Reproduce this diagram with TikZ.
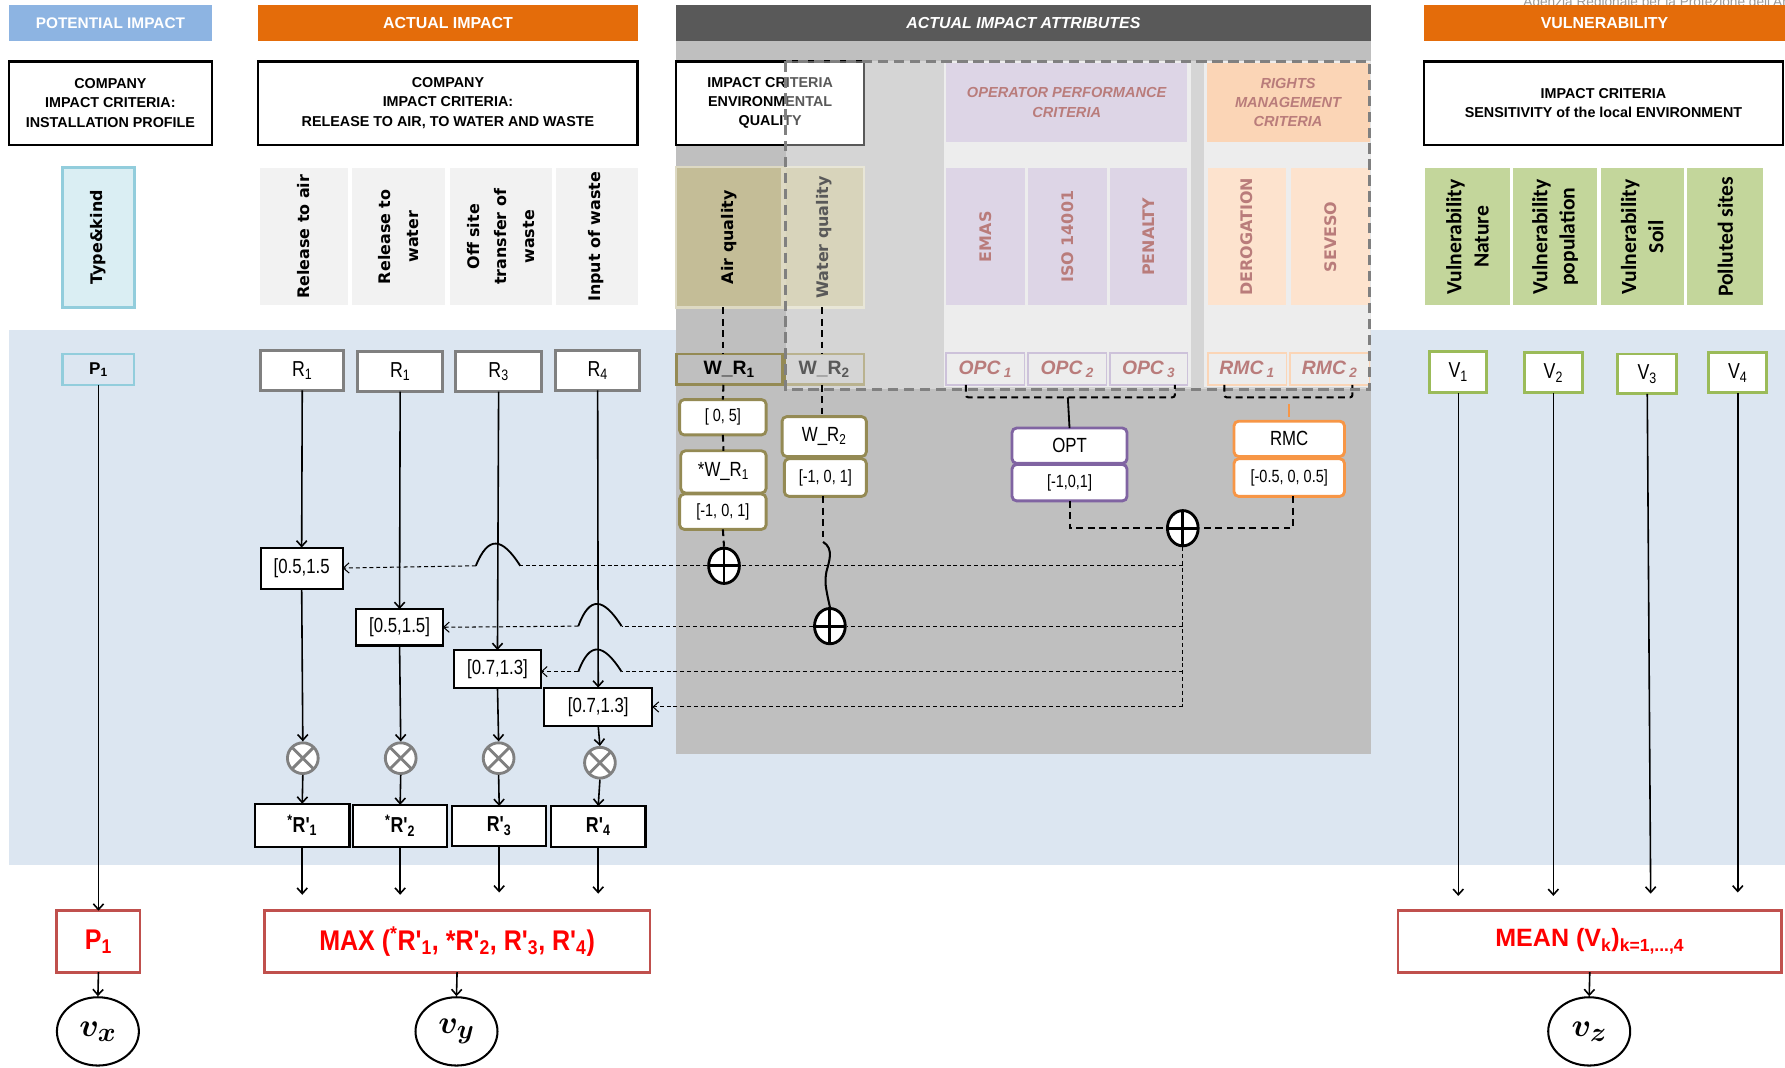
\documentclass[tikz,border=0pt]{standalone}
\usepackage{graphicx}
\usepackage{amsmath}
\usepackage{bm}
\usepackage{fontspec}
\setmainfont{Liberation Sans}
\newfontfamily\nar[FakeStretch=0.82]{Liberation Sans}
\newfontfamily\narb[FakeStretch=0.88]{Liberation Sans}
\newfontfamily\vfont{DejaVu Sans}
\newfontfamily\cfont{Carlito}
\usetikzlibrary{arrows.meta,shapes.geometric}
\newcommand\fs[2]{\fontsize{#1}{#2}\selectfont}
\newcommand\sbs[1]{\textsubscript{#1}}
\newcommand\bigv[1]{\fs{24.88}{28}\scalebox{1.15}{$\bm{v_{#1}}$}}
\newcommand\bx[7]{\node[#6,minimum width={((#4)-(#2))*1pt},minimum height={((#5)-(#3))*1pt}] (#1) at ({((#2)+(#4))/2},{((#3)+(#5))/2}) {#7};}
\newcommand\rt[3]{\node[rotate=90,align=center,inner sep=0pt,#3] (#1t) at (#1.center) {#2};}
\definecolor{potblue}{HTML}{8DB4E2}
\definecolor{orng}{HTML}{E46C0A}
\definecolor{dgray}{HTML}{595959}
\definecolor{panel}{HTML}{BFBFBF}
\definecolor{band}{HTML}{DCE6F1}
\definecolor{cyanf}{HTML}{DAEEF3}
\definecolor{cyanl}{HTML}{92CDDC}
\definecolor{lightg}{HTML}{F2F2F2}
\definecolor{olivef}{HTML}{C4BD97}
\definecolor{olivel}{HTML}{DDD9C3}
\definecolor{oliveb}{HTML}{948A54}
\definecolor{lav}{HTML}{CCC0DA}
\definecolor{lavl}{HTML}{B3A2C7}
\definecolor{purp}{HTML}{8064A2}
\definecolor{peach}{HTML}{FABF8F}
\definecolor{peachl}{HTML}{FCD5B4}
\definecolor{peachline}{HTML}{FAC090}
\definecolor{orB}{HTML}{F79646}
\definecolor{dred}{HTML}{953735}
\definecolor{vgreen}{HTML}{C3D69B}
\definecolor{greenl}{HTML}{9BBB59}
\definecolor{redl}{HTML}{C0504D}
\definecolor{redt}{HTML}{FF0000}
\definecolor{xgray}{HTML}{808080}
\definecolor{colbg}{HTML}{E4E4E4}
\tikzset{
  base/.style={inner sep=0pt, outer sep=0pt, align=center},
  hdr/.style={base, text=white, font=\bfseries\fs{14}{16}},
  cbox/.style={base, draw=black, line width=1.8pt, fill=white, font=\bfseries\fs{12.6}{17}},
  colg/.style={base, fill=lightg},
  rtv/.style={font=\vfont\bfseries\fs{14}{24}},
  rtc/.style={font=\cfont\bfseries\fs{19}{24}},
  opcs/.style={base, fill=colbg, draw=lavl, line width=1.5pt, text=dred, font=\bfseries\itshape\fs{17}{20}},
  rmcs/.style={base, fill=colbg, draw=peachline, line width=1.5pt, text=dred, font=\bfseries\itshape\fs{17}{20}},
  wrbox/.style={base, draw=oliveb, line width=2.5pt, font=\bfseries\fs{17}{20}},
  rbox/.style={base, fill=white, draw=xgray, line width=2.5pt, font=\nar\fs{19}{22}},
  vbox/.style={base, fill=white, draw=greenl, line width=2.5pt, font=\nar\fs{19}{22}},
  wch/.style={base, fill=white, draw=oliveb, line width=2.5pt, rounded corners=4pt, font=\nar\fs{15.5}{18}},
  kbox/.style={base, fill=white, draw=black, line width=1.8pt, font=\nar\fs{18}{20}},
  rpbox/.style={kbox, font=\nar\bfseries\fs{19}{22}},
  redbox/.style={base, fill=white, draw=redl, line width=2.5pt, text=redt, font=\narb\bfseries\fs{25}{28}},
  ell/.style={ellipse, draw=black, line width=1.8pt, fill=white, minimum width=72pt, minimum height=60pt, inner sep=0pt},
  oplus/.style={ellipse, draw=black, line width=2.5pt, fill=white, minimum width=27pt, minimum height=31pt, inner sep=0pt,
    path picture={\draw[line width=2.5pt] (path picture bounding box.north) -- (path picture bounding box.south)
      (path picture bounding box.west) -- (path picture bounding box.east);}},
  otimes/.style={circle, draw=xgray, line width=2.5pt, fill=white, minimum size=27pt, inner sep=0pt,
    path picture={\draw[line width=2.5pt, xgray] (path picture bounding box.north west) -- (path picture bounding box.south east)
      (path picture bounding box.north east) -- (path picture bounding box.south west);}},
  arr/.style={line width=1.4pt, -{Straight Barb[length=5pt,width=9pt]}},
  kdash/.style={line width=1.8pt, dash pattern=on 6pt off 4pt},
  tdash/.style={line width=0.9pt, dash pattern=on 3.5pt off 2.5pt},
  tarr/.style={tdash, -{Straight Barb[length=5pt,width=9pt]}},
  hop/.style={line width=1.6pt}
}
\begin{document}
\begin{tikzpicture}[x=1pt,y=-1pt]
\useasboundingbox (0,0) rectangle (1568,938);
\fill[white] (0,0) rectangle (1568,938);
% faint clipped text at top right
\begin{scope}
\clip (0,0) rectangle (1568,938);
\node[anchor=base west, inner sep=0pt, text=black!40, font=\fs{12}{14}] (arpa) at (1338,6) {Agenzia Regionale per la Protezione dell'Ambiente};
\end{scope}
% backgrounds
\fill[band] (8,290) rectangle (1568,760);
\fill[panel] (594,36) rectangle (1204,662);
% header bars
\bx{hpot}{8}{4}{186}{36}{hdr,fill=potblue,font=\bfseries\fs{13.5}{16}}{POTENTIAL IMPACT}
\bx{hact}{227}{4}{560}{36}{hdr,fill=orng}{ACTUAL IMPACT}
\bx{hatt}{594}{4}{1204}{36}{hdr,fill=dgray,font=\bfseries\itshape\fs{14}{16}}{ACTUAL IMPACT ATTRIBUTES}
\bx{hvul}{1251}{4}{1568}{36}{hdr,fill=orng}{VULNERABILITY}
% criteria boxes
\bx{cpot}{8}{54}{186}{127}{cbox}{COMPANY\\IMPACT CRITERIA:\\INSTALLATION PROFILE}
\bx{cact}{227}{54}{560}{127}{cbox}{COMPANY\\IMPACT CRITERIA:\\RELEASE TO AIR, TO WATER AND WASTE}
\bx{cenv}{594}{54}{759}{127}{cbox}{IMPACT CRITERIA\\ENVIRONMENTAL\\QUALITY}
\bx{csen}{1251}{54}{1566}{127}{cbox}{IMPACT CRITERIA\\SENSITIVITY of the local ENVIRONMENT}
% potential column
\bx{tk}{55}{147}{118}{270}{base,fill=cyanf,draw=cyanl,line width=2.5pt}{}
\rt{tk}{Type\&kind}{rtv}
% release columns
\bx{c1}{228}{148}{306}{268}{colg}{}
\rt{c1}{Release to air}{rtv}
\bx{c2}{309}{148}{391}{268}{colg}{}
\rt{c2}{Release to\\water}{rtv}
\bx{c3}{395}{148}{485}{268}{colg}{}
\rt{c3}{Off site\\transfer of\\waste}{rtv}
\bx{c4}{488}{148}{560}{268}{colg}{}
\rt{c4}{Input of waste}{rtv}
% attribute columns
\fill[colbg] (829,54) rectangle (1046,340);
\fill[colbg] (1058,54) rectangle (1204,340);
\bx{hopc}{831}{55}{1043}{125}{base,fill=lav,text=dred,font=\bfseries\itshape\fs{12.8}{17}}{OPERATOR PERFORMANCE\\CRITERIA}
\bx{hrmc}{1060}{55}{1203}{125}{base,fill=peach,text=dred,font=\bfseries\itshape\fs{12.8}{17}}{RIGHTS\\MANAGEMENT\\CRITERIA}
\bx{emas}{831}{148}{900}{268}{base,fill=lav}{}
\rt{emas}{EMAS}{rtv,text=dred}
\bx{iso}{903}{148}{972}{268}{base,fill=lav}{}
\rt{iso}{ISO 14001}{rtv,text=dred}
\bx{pen}{975}{148}{1043}{268}{base,fill=lav}{}
\rt{pen}{PENALTY}{rtv,text=dred}
\bx{der}{1061}{148}{1130}{268}{base,fill=peachl}{}
\rt{der}{DEROGATION}{rtv,text=dred}
\bx{sev}{1134}{148}{1203}{268}{base,fill=peachl}{}
\rt{sev}{SEVESO}{rtv,text=dred}
\bx{opc1}{831}{310}{900}{338}{opcs}{OPC\,\sbs{1}}
\bx{opc2}{903}{310}{972}{338}{opcs}{OPC\,\sbs{2}}
\bx{opc3}{975}{310}{1043}{338}{opcs}{OPC\,\sbs{3}}
\bx{rmc1}{1061}{310}{1130}{338}{rmcs}{RMC\,\sbs{1}}
\bx{rmc2}{1133}{310}{1203}{338}{rmcs}{RMC\,\sbs{2}}
\bx{airq}{594}{147}{687}{270}{base,fill=olivef,draw=olivel,line width=2pt}{}
\rt{airq}{Air quality}{rtv}
\bx{watq}{689}{147}{759}{270}{base,fill=olivef,draw=olivel,line width=2pt}{}
\rt{watq}{Water quality}{rtv}
\bx{wr1}{594}{311}{687}{338}{wrbox}{W\_R\sbs{1}}
\bx{wr2}{689}{311}{759}{338}{wrbox}{W\_R\sbs{2}}
% translucent dashed overlay
\fill[white, opacity=0.35] (690,54) rectangle (1203,342);
\draw[xgray, line width=3pt, dash pattern=on 9pt off 5pt] (690,54) rectangle (1203,342);
% vulnerability columns
\bx{vn}{1252}{148}{1326}{268}{base,fill=vgreen}{}
\rt{vn}{Vulnerability\\Nature}{rtc}
\bx{vp}{1329}{148}{1403}{268}{base,fill=vgreen}{}
\rt{vp}{Vulnerability\\population}{rtc}
\bx{vs}{1406}{148}{1479}{268}{base,fill=vgreen}{}
\rt{vs}{Vulnerability\\Soil}{rtc}
\bx{ps}{1482}{148}{1549}{268}{base,fill=vgreen}{}
\rt{ps}{Polluted sites}{rtc}
% row of inputs
\bx{p1}{55}{311}{118}{338}{base,draw=cyanl,line width=2pt,font=\bfseries\fs{15}{18}}{P\sbs{1}}
\bx{rb1}{229}{308}{302}{343}{rbox}{R\sbs{1}}
\bx{rb2}{314}{309}{389}{344}{rbox}{R\sbs{1}}
\bx{rb3}{400}{309}{476}{344}{rbox}{R\sbs{3}}
\bx{rb4}{488}{308}{562}{343}{rbox}{R\sbs{4}}
\bx{v1}{1256}{309}{1306}{345}{vbox}{V\sbs{1}}
\bx{v2}{1339}{310}{1390}{345}{vbox}{V\sbs{2}}
\bx{v3}{1421}{311}{1473}{346}{vbox}{V\sbs{3}}
\bx{v4}{1501}{310}{1552}{345}{vbox}{V\sbs{4}}
% weight chains
\bx{wa}{597}{351}{673}{382}{wch}{[ 0, 5]}
\bx{wb}{598}{396}{673}{433}{wch,font=\nar\fs{18}{20}}{*W\_R\sbs{1}}
\bx{wc}{597}{434}{673}{465}{wch}{[-1, 0, 1]}
\bx{wd}{687}{366}{761}{401}{wch,font=\nar\fs{18}{20}}{W\_R\sbs{2}}
\bx{we}{689}{403}{761}{436}{wch}{[-1, 0, 1]}
\bx{opt}{889}{376}{990}{407}{wch,draw=purp,font=\nar\fs{18}{20}}{OPT}
\bx{optb}{889}{408}{990}{440}{wch,draw=purp}{[-1,0,1]}
\bx{rmc}{1084}{370}{1181}{401}{wch,draw=orB,font=\nar\fs{18}{20}}{RMC}
\bx{rmcb}{1084}{403}{1181}{436}{wch,draw=orB}{[-0.5, 0, 0.5]}
% sum nodes
\node[oplus] (opa) at (636,497) {};
\node[oplus] (opb) at (729,550) {};
\node[oplus] (opc) at (1039,464) {};
% coefficient boxes
\bx{ba}{229}{481}{301}{517}{kbox}{[0.5,1.5}
\bx{bb}{313}{535}{389}{567}{kbox}{[0.5,1.5]}
\bx{bc}{399}{571}{475}{604}{kbox}{[0.7,1.3]}
\bx{bd}{478}{604}{573}{638}{kbox}{[0.7,1.3]}
% product nodes
\node[otimes] (x1) at (266,666) {};
\node[otimes] (x2) at (352,666) {};
\node[otimes] (x3) at (438,666) {};
\node[otimes] (x4) at (527,670) {};
% R' boxes
\bx{rp1}{224}{706}{307}{744}{rpbox}{\textsuperscript{*}R'\sbs{1}}
\bx{rp2}{310}{707}{393}{744}{rpbox}{\textsuperscript{*}R'\sbs{2}}
\bx{rp3}{397}{708}{480}{743}{rpbox}{R'\sbs{3}}
\bx{rp4}{484}{708}{567}{744}{rpbox}{R'\sbs{4}}
% result boxes
\bx{rP}{50}{800}{123}{854}{redbox}{P\sbs{1}}
\bx{rMax}{232}{800}{571}{854}{redbox}{MAX (\textsuperscript{*}R'\sbs{1}, *R'\sbs{2}, R'\sbs{3}, R'\sbs{4})}
\bx{rMean}{1228}{800}{1565}{854}{redbox,font=\bfseries\fs{22}{26}}{MEAN (V\sbs{k})\sbs{k=1,...,4}}
\node[ell] (vx) at (86,906) {\bigv{x}};
\node[ell] (vy) at (401,906) {\bigv{y}};
\node[ell] (vz) at (1396,906) {\bigv{z}};
% free ends
\coordinate (e1) at (265.5,786);
\coordinate (e2) at (351.5,786);
\coordinate (e3) at (438.5,784);
\coordinate (e4) at (525.5,785);
\coordinate (ev1) at (1281,787);
\coordinate (ev2) at (1364.5,787);
\coordinate (ev3) at (1450,785);
\coordinate (ev4) at (1526.5,784);
% solid arrows
\draw[arr] (p1.south) -- (rP.north);
\draw[arr] (rb1.south) -- (ba.north);
\draw[arr] (ba.south) -- (x1.north);
\draw[arr] (x1.south) -- (rp1.north);
\draw[arr] (rp1.south) -- (e1);
\draw[arr] (rb2.south) -- (bb.north);
\draw[arr] (bb.south) -- (x2.north);
\draw[arr] (x2.south) -- (rp2.north);
\draw[arr] (rp2.south) -- (e2);
\draw[arr] (rb3.south) -- (bc.north);
\draw[arr] (bc.south) -- (x3.north);
\draw[arr] (x3.south) -- (rp3.north);
\draw[arr] (rp3.south) -- (e3);
\draw[arr] (rb4.south) -- (bd.north);
\draw[arr] (bd.south) -- (x4.north);
\draw[arr] (x4.south) -- (rp4.north);
\draw[arr] (rp4.south) -- (e4);
\draw[arr] (rP.south) -- (vx.north);
\draw[arr] (rMax.south) -- (vy.north);
\draw[arr] (rMean.south) -- (vz.north);
\draw[arr] (v1.south) -- (ev1);
\draw[arr] (v2.south) -- (ev2);
\draw[arr] (v3.south) -- (ev3);
\draw[arr] (v4.south) -- (ev4);
% thick dashed links
\draw[kdash] ([xshift=-5pt]airq.south) -- ([xshift=-5pt]wr1.north);
\draw[kdash] ([xshift=-5pt]wr1.south) -- (wa.north);
\draw[kdash] (wa.south) -- (wb.north);
\draw[kdash] (wc.south) -- (opa.north);
\draw[kdash] ([xshift=-2pt]watq.south) -- ([xshift=-2pt]wr2.north);
\draw[kdash] ([xshift=-2pt]wr2.south) -- ([xshift=-2pt]wd.north);
\coordinate (sq1) at (723,476);
\coordinate (sq2) at (727,524);
\draw[kdash] ([xshift=-2pt]we.south) -- (sq1);
\draw[line width=1.8pt] (sq1) .. controls (733,482) and (728,494) .. (726,502) .. controls (724,512) and (726,518) .. (sq2) -- (opb.north);
\draw[kdash, rounded corners=2pt] ([xshift=-17pt]opc1.south) -- ++(0,11) -| ([xshift=23pt]opc3.south);
\coordinate (opcm) at (938,349);
\draw[line width=1.6pt] (opcm) -- (opt.north);
\draw[kdash, rounded corners=2pt] ([xshift=-20pt]rmc1.south) -- ++(0,11) -| ([xshift=20pt]rmc2.south);
\coordinate (rmcm) at (1132.5,355);
\draw[orB, line width=2pt] (rmcm) -- ([yshift=4pt]rmc.north);
\draw[kdash] (optb.south) |- (opc.west);
\draw[kdash] ([xshift=3pt]rmcb.south) |- (opc.east);
% thin dashed feedback lines
\coordinate (j1) at (1039,497);
\coordinate (j2) at (1039,550);
\coordinate (j3) at (1039,590);
\coordinate (j4) at (1039,621);
\draw[tdash] (opc.south) -- (j4);
\coordinate (h1r) at (457,497);
\coordinate (h1l) at (418,497);
\draw[tdash] (j1) -- (opa.east);
\draw[tdash] (opa.west) -- (h1r);
\draw[hop] (h1r) .. controls (441,472) and (429,470) .. (h1l);
\draw[tarr] (h1l) -- (ba.east);
\coordinate (h2r) at (546,550);
\coordinate (h2l) at (508,550);
\draw[tdash] (j2) -- (opb.east);
\draw[tdash] (opb.west) -- (h2r);
\draw[hop] (h2r) .. controls (530,525) and (518,523) .. (h2l);
\draw[tarr] (h2l) -- (bb.east);
\coordinate (h3r) at (546,590);
\coordinate (h3l) at (508,590);
\draw[tdash] (j3) -- (h3r);
\draw[hop] (h3r) .. controls (530,565) and (518,563) .. (h3l);
\draw[tarr] (h3l) -- (h3l -| bc.east);
\draw[tarr] (j4) -- (bd.east);
\end{tikzpicture}
\end{document}
